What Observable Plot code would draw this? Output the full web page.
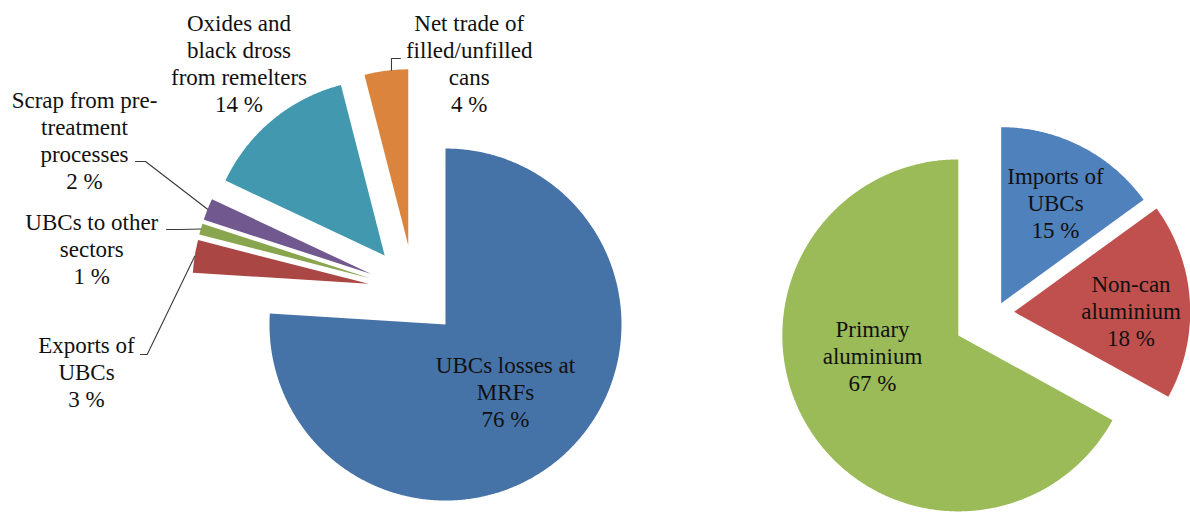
<!DOCTYPE html>
<html><head><meta charset="utf-8">
<script src="https://cdn.jsdelivr.net/npm/d3@7"></script>
<script src="https://cdn.jsdelivr.net/npm/@observablehq/plot@0.6"></script>
<style>body{margin:0;background:#fff} svg text, svg tspan{font-family:"Liberation Serif","DejaVu Serif","Noto Serif","Tinos","Times New Roman",Times,serif !important;}</style>
</head><body><div id="chart"></div>
<script>
// ---- data ----
const lossCategories = ["UBCs losses at MRFs", "Exports of UBCs", "UBCs to other sectors", "Scrap from pre-treatment processes", "Oxides and black dross from remelters", "Net trade of filled/unfilled cans"];
const lossValues = [76, 3, 1, 2, 14, 4];
const lossLabels = ["UBCs losses at\nMRFs", "Exports of\nUBCs", "UBCs to other\nsectors", "Scrap from pre-\ntreatment\nprocesses", "Oxides and\nblack dross\nfrom remelters", "Net trade of\nfilled/unfilled\ncans"];

const sourceCategories = ["Imports of UBCs", "Non-can aluminium", "Primary aluminium"];
const sourceValues = [15, 18, 67];
const sourceLabels = ["Imports of\nUBCs", "Non-can\naluminium", "Primary\naluminium"];

// ---- layout / style ----
const W = 1190, H = 513;
const FONT = 23, LINE_H = 1.17;
const SERIF = "'Liberation Serif', 'DejaVu Serif', 'Noto Serif', Tinos, 'Times New Roman', Times, serif";
const pies = [
  {
    id: "loss", labels: lossLabels, values: lossValues,
    cx: 413.5, cy: 290.5, r: 176,
    explode: [46, 46, 46, 46, 46, 46],
    colors: ["#4572A7", "#AA4643", "#89A54E", "#71588F", "#4198AF", "#DB843D"],
    labelPos: [[91.5, 136.2], [-327.5, 116.2], [-322.2, -7.2], [-329.5, -102.5], [-175, -178.8], [55.2, -178.8]],
    // leader: [label end, elbow] relative to centre, t = fraction along slice arc
    leaders: [null, {pts: [[-273.5, 63.5], [-266.8, 63.5]], t: 0.5}, {pts: [[-247.5, -61.5], [-233.5, -61.5]], t: 0.5},
              {pts: [[-278.5, -129.5], [-268.5, -129.5]], t: 0.5}, null, {pts: [[-13.5, -232.5], [-22.5, -232.5]], t: 0.62}]
  },
  {
    id: "source", labels: sourceLabels, values: sourceValues,
    cx: 995.7, cy: 312.5, r: 176,
    explode: [11, 18, 44],
    colors: ["#4F81BD", "#C0504D", "#9BBB59"],
    labelPos: [[59.3, -74.8], [134.8, 32.5], [-123.7, 77.5]],
    leaders: [null, null, null]
  }
];

const slicePts = [], leaderPts = [], labelRows = [], keys = [], colors = [];
for (const p of pies) {
  const arcs = d3.pie().sort(null).value(d => d)(p.values);
  arcs.forEach((a, i) => {
    const key = p.id + "-" + i;
    keys.push(key); colors.push(p.colors[i]);
    const mid = (a.startAngle + a.endAngle) / 2;
    const ax = p.cx + p.explode[i] * Math.sin(mid);
    const ay = p.cy - p.explode[i] * Math.cos(mid);
    slicePts.push({key, x: ax, y: ay});
    const n = Math.max(2, Math.ceil((a.endAngle - a.startAngle) / (Math.PI / 360)));
    for (let k = 0; k <= n; k++) {
      const t = a.startAngle + (a.endAngle - a.startAngle) * k / n;
      slicePts.push({key, x: ax + p.r * Math.sin(t), y: ay - p.r * Math.cos(t)});
    }
    const lp = p.labelPos[i];
    labelRows.push({x: p.cx + lp[0], y: p.cy + lp[1], text: p.labels[i] + "\n" + p.values[i] + " %"});
    const L = p.leaders[i];
    if (L) {
      for (const q of L.pts) leaderPts.push({key, x: p.cx + q[0], y: p.cy + q[1]});
      const ang = a.startAngle + (a.endAngle - a.startAngle) * L.t;
      leaderPts.push({key, x: ax + p.r * Math.sin(ang), y: ay - p.r * Math.cos(ang)});
    }
  });
}

const chart = Plot.plot({
  width: W, height: H, margin: 0,
  style: {background: "#fff", fontFamily: SERIF},
  x: {domain: [0, W], range: [0, W], axis: null},
  y: {domain: [0, H], range: [0, H], axis: null},
  color: {type: "ordinal", domain: keys, range: colors},
  marks: [
    Plot.line(slicePts, {x: "x", y: "y", z: "key", fill: "key", stroke: "none"}),
    Plot.line(leaderPts, {x: "x", y: "y", z: "key", stroke: "#3a3a3a", strokeWidth: 1.1}),
    Plot.text(labelRows, {x: "x", y: "y", text: "text", lineAnchor: "bottom", lineHeight: LINE_H,
      fontSize: FONT, fontFamily: SERIF, fill: "#111"})
  ]
});
document.getElementById("chart").appendChild(chart);
</script>
</body></html>
